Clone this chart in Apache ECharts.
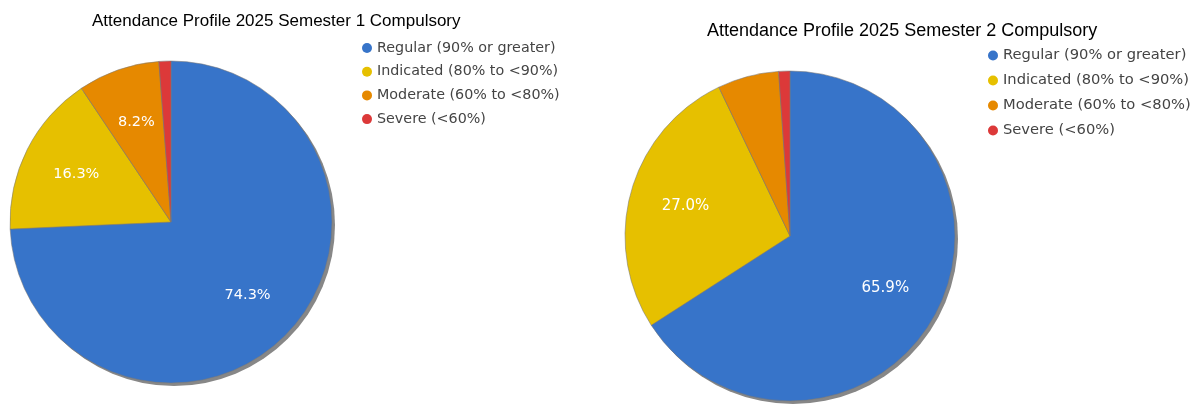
<!DOCTYPE html>
<html>
<head>
<meta charset="utf-8">
<title>Attendance Profile 2025</title>
<script src="https://cdn.jsdelivr.net/npm/echarts@6/dist/echarts.min.js"></script>
<style>
	html, body { margin: 0; padding: 0; background: #fff; }
	#main { width: 1198px; height: 405px; }
</style>
</head>
<body>
<div id="main"></div>
<script>
	var categories = ['Regular (90% or greater)', 'Indicated (80% to <90%)', 'Moderate (60% to <80%)', 'Severe (<60%)'];
	var sem1Values = [74.3, 16.3, 8.2, 1.2];
	var sem2Values = [65.9, 27.0, 6.0, 1.1];
	var titles = ['Attendance Profile 2025 Semester 1 Compulsory', 'Attendance Profile 2025 Semester 2 Compulsory'];

	// google-ish palette
	var colorList = ['#3774c9', '#e6c000', '#e68900', '#dc3939'];
	var labelMin = 7; // small slices get no label

	function toData(values) {
		return values.map(function(v, i) {
			return { name: categories[i], value: v, itemStyle: { color: colorList[i] } };
		});
	}

	// shadow disc + pie + transparent ring that only carries labels (places them at ~0.64r)
	function getPieSeries(values, cx, cy, r, fontSize) {
		return [{
			name: 'shadow',
			type: 'pie',
			silent: true,
			center: [cx + 3, cy + 3],
			radius: r,
			label: { show: false },
			labelLine: { show: false },
			itemStyle: { color: '#878787' },
			data: [{ name: 'shadow', value: 1 }]
		}, {
			type: 'pie',
			center: [cx, cy],
			radius: r,
			startAngle: 90,
			label: { show: false },
			labelLine: { show: false },
			emphasis: { disabled: true },
			itemStyle: { borderColor: 'rgba(120,120,120,0.55)', borderWidth: 1 },
			data: toData(values)
		}, {
			type: 'pie',
			silent: true,
			center: [cx, cy],
			radius: [r * 0.28, r],
			startAngle: 90,
			avoidLabelOverlap: false,
			itemStyle: { color: 'rgba(0,0,0,0)', borderWidth: 0 },
			labelLine: { show: false },
			label: {
				position: 'inside',
				color: '#fff',
				fontFamily: 'DejaVu Sans',
				fontSize: fontSize,
				formatter: function(p) {
					return p.value >= labelMin ? p.value.toFixed(1) + '%' : '';
				}
			},
			data: values.map(function(v, i) { return { name: categories[i], value: v }; })
		}];
	}

	function getLegend(left, top, fontSize, gap) {
		return {
			data: categories,
			orient: 'vertical',
			left: left,
			top: top,
			padding: 0,
			icon: 'circle',
			itemWidth: 10,
			itemHeight: 10,
			itemGap: gap,
			selectedMode: false,
			itemStyle: { borderWidth: 0 },
			textStyle: { fontFamily: 'DejaVu Sans', fontSize: fontSize, color: '#444' }
		};
	}

	var myChart = echarts.init(document.getElementById('main'));
	var option = {
		animation: false,
		title: [{
			text: titles[0],
			left: 92,
			top: 13,
			padding: 0,
			textStyle: { fontFamily: 'Liberation Sans', fontSize: 17, fontWeight: 'normal', color: '#000' }
		}, {
			text: titles[1],
			left: 707,
			top: 22,
			padding: 0,
			textStyle: { fontFamily: 'Liberation Sans', fontSize: 18, fontWeight: 'normal', color: '#000' }
		}],
		legend: [
			getLegend(362, 41, 14.3, 9.7),
			getLegend(988, 48, 14.7, 10)
		],
		series: [].concat(
			getPieSeries(sem1Values, 171, 222, 161, 14.5),
			getPieSeries(sem2Values, 790, 236, 165, 15)
		)
	};
	myChart.setOption(option);
</script>
</body>
</html>
